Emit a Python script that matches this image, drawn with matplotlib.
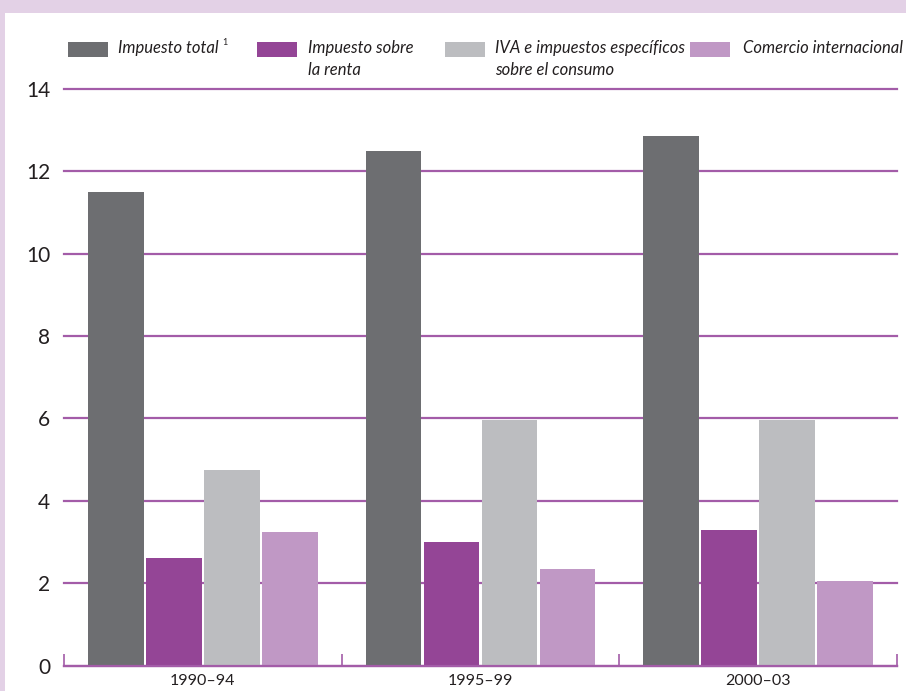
import matplotlib.pyplot as plt
import numpy as np
from matplotlib.patches import Rectangle

periods = ["1990–94", "1995–99", "2000–03"]
impuesto_total = [11.5, 12.5, 12.85]
impuesto_renta = [2.6, 3.0, 3.3]
iva_consumo = [4.75, 5.95, 5.95]
comercio_int = [3.25, 2.35, 2.05]

series = [impuesto_total, impuesto_renta, iva_consumo, comercio_int]
colors = ["#6d6e71", "#944596", "#bcbdc0", "#c098c5"]
legend_labels = ["Impuesto total", "Impuesto sobre\nla renta",
                 "IVA e impuestos específicos\nsobre el consumo",
                 "Comercio internacional"]

plt.rcParams['font.family'] = ['Lato', 'DejaVu Sans']
grid_color = "#a35ca8"
text_color = "#231f20"

fig = plt.figure(figsize=(9.06, 6.91), dpi=100, facecolor="#e3d1e6")
# white panel inside the lavender frame
fig.add_artist(Rectangle((5 / 906, 0), 1, 1 - 13 / 691, transform=fig.transFigure,
                         facecolor="white", edgecolor="none", zorder=0))

ax = fig.add_axes([64 / 906, 1 - 665.5 / 691, 833 / 906, (665.5 - 88.7) / 691])
ax.set_facecolor("none")

x = np.arange(len(periods))
step = 0.209
width = 0.2
for i, (vals, c) in enumerate(zip(series, colors)):
    ax.bar(x + (i - 1.5) * step, vals, width=width, color=c, zorder=3)

ax.set_xlim(-0.5, 2.5)
ax.set_ylim(0, 14)
ax.set_yticks(range(0, 15, 2))
ax.yaxis.grid(True, color=grid_color, linewidth=1.6, zorder=1)
ax.set_axisbelow(True)
for gl in ax.get_ygridlines():
    gl.set_clip_on(False)

for s in ["top", "right", "left"]:
    ax.spines[s].set_visible(False)
ax.spines["bottom"].set_color(grid_color)
ax.spines["bottom"].set_linewidth(1.6)
ax.spines["bottom"].set_zorder(4)

ax.set_xticks(x)
ax.set_xticklabels(periods, fontsize=11.5, color=text_color)
ax.set_xticks([-0.5, 0.5, 1.5, 2.5], minor=True)
ax.tick_params(axis="x", which="major", length=0, pad=6)
ax.tick_params(axis="x", which="minor", direction="in", length=9,
               color=grid_color, width=1.2)
ax.tick_params(axis="y", length=0, pad=10, labelsize=15, labelcolor=text_color)

# legend row across the top
patch_x = [68, 257, 445, 690]
text_x = [118, 308, 495, 743]
for px, tx, c, lab in zip(patch_x, text_x, colors, legend_labels):
    fig.add_artist(Rectangle((px / 906, 1 - 57 / 691), 40 / 906, 15 / 691,
                             transform=fig.transFigure, facecolor=c, edgecolor="none"))
    fig.text(tx / 906, 1 - 40 / 691, lab, ha="left", va="top", fontsize=12,
             style="italic", color=text_color, linespacing=1.45)
fig.text(222 / 906, 1 - 38 / 691, "1", ha="left", va="top", fontsize=6.5,
         color=text_color)

fig.savefig("out.png", dpi=100, facecolor=fig.get_facecolor())
